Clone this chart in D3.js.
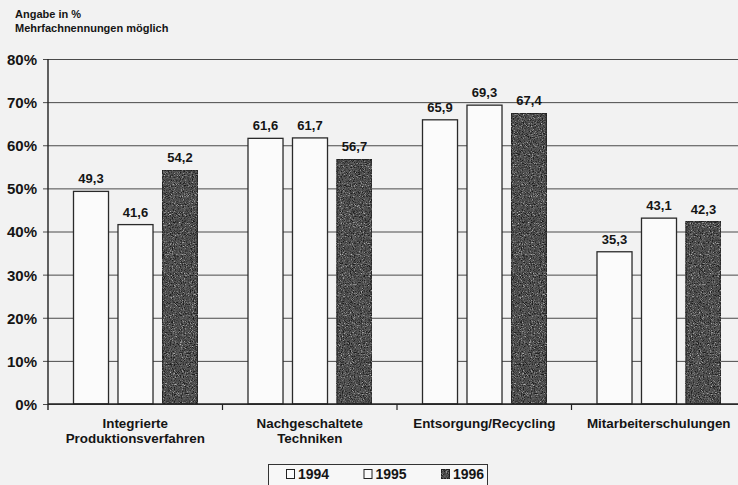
<!DOCTYPE html>
<html>
<head>
<meta charset="utf-8">
<script src="https://cdn.jsdelivr.net/npm/d3@7"></script>
<style>
  html, body { margin: 0; padding: 0; background: #f2f2f2; }
  svg { display: block; }
  text { font-family: "Liberation Sans", Arial, Helvetica, sans-serif; font-weight: bold; fill: #151515; }
</style>
</head>
<body>
<svg id="chart" width="738" height="485"></svg>
<script>
// ---- data ----
const categories = ["Integrierte\nProduktionsverfahren", "Nachgeschaltete\nTechniken", "Entsorgung/Recycling", "Mitarbeiterschulungen"];
const years = ["1994", "1995", "1996"];
const values1994 = [49.3, 61.6, 65.9, 35.3];
const values1995 = [41.6, 61.7, 69.3, 43.1];
const values1996 = [54.2, 56.7, 67.4, 42.3];
const yTicks = [0, 10, 20, 30, 40, 50, 60, 70, 80];
const titleLines = ["Angabe in %", "Mehrfachnennungen möglich"];

const seriesValues = [values1994, values1995, values1996];

const svg = d3.select("#chart");
const W = 738, H = 485;
svg.append("rect").attr("width", W).attr("height", H).attr("fill", "#f2f2f2");

// grain filter for dark bars
const defs = svg.append("defs");
const flt = defs.append("filter").attr("id", "grain").attr("x", 0).attr("y", 0).attr("width", "100%").attr("height", "100%")
  .attr("color-interpolation-filters", "sRGB");
flt.append("feTurbulence").attr("type", "fractalNoise").attr("baseFrequency", 0.9).attr("numOctaves", 2).attr("seed", 4).attr("result", "noise");
flt.append("feColorMatrix").attr("in", "noise").attr("type", "matrix")
  .attr("values", "0 0 0 0 0.1  0 0 0 0 0.1  0 0 0 0 0.1  3.5 0 0 0 -1.6").attr("result", "dark");
flt.append("feColorMatrix").attr("in", "noise").attr("type", "matrix")
  .attr("values", "0 0 0 0 0.75  0 0 0 0 0.75  0 0 0 0 0.75  0 3.5 0 0 -2.0").attr("result", "light");
flt.append("feComposite").attr("in", "dark").attr("in2", "SourceGraphic").attr("operator", "in").attr("result", "darkC");
flt.append("feComposite").attr("in", "light").attr("in2", "SourceGraphic").attr("operator", "in").attr("result", "lightC");
const mrg = flt.append("feMerge");
mrg.append("feMergeNode").attr("in", "SourceGraphic");
mrg.append("feMergeNode").attr("in", "darkC");
mrg.append("feMergeNode").attr("in", "lightC");

const mLeft = 48, mRight = 746, mTop = 59, mBottom = 404;
const x0 = d3.scaleBand().domain(categories).range([mLeft, mRight]).paddingInner(0).paddingOuter(0);
const x1 = d3.scaleBand().domain(years).range([25.5, 149.5]).paddingInner(0.213).paddingOuter(0);
const y = d3.scaleLinear().domain([0, 80]).range([mBottom, mTop]);

const fills = { "1994": "#fbfbfb", "1995": "#fbfbfb", "1996": "#555555" };
const fmt = d3.formatLocale({ decimal: ",", thousands: ".", grouping: [3], currency: ["", "€"] }).format(".1f");

// title
svg.append("g").selectAll("text").data(titleLines).join("text")
  .attr("x", 15).attr("y", (d, i) => 17.5 + i * 14)
  .attr("font-size", 11).text(d => d);

// gridlines + y axis ticks
const yAxis = d3.axisLeft(y).tickValues(yTicks).tickSizeOuter(0).tickFormat(d => d + "%");
const gy = svg.append("g").attr("transform", `translate(${mLeft},0)`).call(yAxis);
gy.select(".domain").remove();
gy.selectAll(".tick line").attr("stroke", "#4a4a4a").attr("stroke-width", 1).attr("x1", -5).attr("x2", W - mLeft);
gy.selectAll(".tick text").attr("font-size", 15).attr("fill", "#151515").attr("font-family", null).attr("x", -11).attr("dy", "0.36em");

// bars
const groups = svg.append("g").selectAll("g").data(categories).join("g")
  .attr("transform", d => `translate(${x0(d)},0)`);
groups.selectAll("rect").data((c, ci) => years.map((yr, si) => ({ yr, v: seriesValues[si][ci] })))
  .join("rect")
  .attr("x", d => x1(d.yr)).attr("width", x1.bandwidth())
  .attr("y", d => y(d.v)).attr("height", d => y(0) - y(d.v))
  .attr("fill", d => fills[d.yr]).attr("stroke", "#2a2a2a").attr("stroke-width", 1.3)
  .attr("filter", d => d.yr === "1996" ? "url(#grain)" : null);
groups.selectAll("text.val").data((c, ci) => years.map((yr, si) => ({ yr, v: seriesValues[si][ci] })))
  .join("text").attr("class", "val")
  .attr("x", d => x1(d.yr) + x1.bandwidth() / 2).attr("y", d => y(d.v) - 8)
  .attr("text-anchor", "middle").attr("font-size", 13).text(d => fmt(d.v));

// axes lines
svg.append("line").attr("x1", mLeft).attr("x2", mLeft).attr("y1", mTop).attr("y2", mBottom + 6).attr("stroke", "#222").attr("stroke-width", 1.4);
svg.append("line").attr("x1", mLeft).attr("x2", W).attr("y1", mBottom).attr("y2", mBottom).attr("stroke", "#222").attr("stroke-width", 1.4);
svg.append("g").selectAll("line").data(categories.slice(1)).join("line")
  .attr("x1", d => x0(d)).attr("x2", d => x0(d)).attr("y1", mBottom).attr("y2", mBottom + 6)
  .attr("stroke", "#222").attr("stroke-width", 1.2);

// category labels
const cl = svg.append("g").selectAll("text").data(categories).join("text")
  .attr("text-anchor", "middle").attr("font-size", 13.4)
  .attr("transform", d => `translate(${x0(d) + x0.bandwidth() / 2},0)`);
cl.selectAll("tspan").data(d => d.split("\n")).join("tspan")
  .attr("x", 0).attr("y", (d, i) => 427.7 + i * 15).text(d => d);

// legend
const lg = svg.append("g");
lg.append("rect").attr("x", 268.5).attr("y", 464.5).attr("width", 219).attr("height", 30)
  .attr("fill", "#f7f7f7").attr("stroke", "#333").attr("stroke-width", 1);
const li = lg.selectAll("g").data(years).join("g")
  .attr("transform", (d, i) => `translate(${286 + i * 77.5},0)`);
li.append("rect").attr("x", 0.5).attr("y", 469.5).attr("width", 8).attr("height", 9)
  .attr("fill", d => fills[d]).attr("stroke", "#222").attr("stroke-width", 1)
  .attr("filter", d => d === "1996" ? "url(#grain)" : null);
li.append("text").attr("x", 12).attr("y", 479).attr("font-size", 14).text(d => d);
</script>
</body>
</html>
